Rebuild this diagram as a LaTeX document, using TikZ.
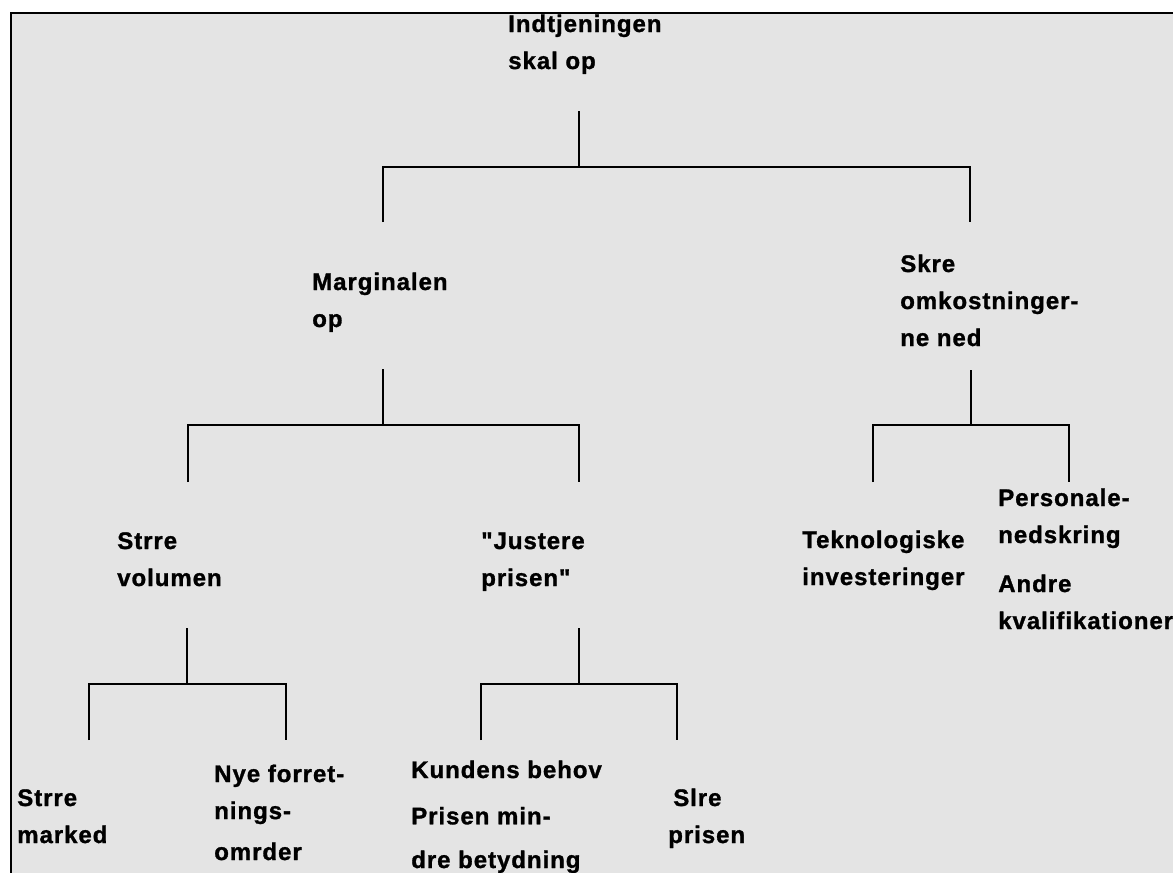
\documentclass[tikz,border=0pt]{standalone}
\usepackage{fontspec}
\setmainfont{Liberation Sans}[LetterSpace=4, Ligatures=TeXOff, BoldFeatures={FakeBold=1.2}]
\usepackage{tikz}
\usetikzlibrary{positioning}
\definecolor{paper}{RGB}{228, 228, 228}
% anchored at the baseline of the last line
\tikzstyle{goal} = [anchor=base west, inner sep=0pt, align=left, text=black, font=\bfseries\fontsize{18}{27.75}\selectfont]
\tikzstyle{tline} = [draw, line width=1.5pt, line join=miter]

\begin{document}
\begin{tikzpicture}[x=0.75pt, y=-0.75pt]

\useasboundingbox (0,0) rectangle (1173,872);

% background =============================
\fill[paper] (11,13) rectangle (1180,880);
\draw[line width=1.6pt] (11,880) -- (11,13) -- (1180,13);

% goals ==================================

% level 0
\node[goal] (indt) at (508,69) {Indtjeningen\\skal op};

% level 1
\node[goal] (marg) at (312,327) {Marginalen\\op};
\node[goal] (skre) at (900,346) {Skre\\omkostninger-\\ne ned};

% level 2
\node[goal] (volu) at (117,586) {Strre\\volumen};
\node[goal] (just) at (481,586) {"Justere\\prisen"};
\node[goal] (tekn) at (802,585) {Teknologiske\\investeringer};
\node[goal] (pers) at (998,629) {Personale-\\nedskring\\[9pt]Andre\\kvalifikationer};

% level 3
\node[goal] (mark) at (17,843) {Strre\\marked};
\node[goal] (nye)  at (214,860) {Nye forret-\\nings-\\[3pt]omrder};
\node[goal] (kund) at (411,868) {Kundens behov\\[7pt]Prisen min-\\[5pt]dre betydning};
\node[goal] (slre) at (673,843) {Slre\\\hspace*{-3.75pt}prisen};

% stub ends ==============================
\coordinate (indt-s) at (579,111);
\coordinate (marg-n) at (383,222);
\coordinate (skre-n) at (970,222);

\coordinate (marg-s) at (383,369);
\coordinate (volu-n) at (188,482);
\coordinate (just-n) at (579,482);

\coordinate (skre-s) at (971,370);
\coordinate (tekn-n) at (873,482);
\coordinate (pers-n) at (1069,482);

\coordinate (volu-s) at (187,628);
\coordinate (mark-n) at (89,740);
\coordinate (nye-n)  at (286,740);

\coordinate (just-s) at (579,628);
\coordinate (kund-n) at (481,740);
\coordinate (slre-n) at (677,740);

% edges ==================================
\path[tline] (indt-s) -- ++(0,56);
\path[tline] (marg-n) -- ++(0,-55) -| (skre-n);

\path[tline] (marg-s) -- ++(0,56);
\path[tline] (volu-n) -- ++(0,-57) -| (just-n);

\path[tline] (skre-s) -- ++(0,55);
\path[tline] (tekn-n) -- ++(0,-57) -| (pers-n);

\path[tline] (volu-s) -- ++(0,56);
\path[tline] (mark-n) -- ++(0,-56) -| (nye-n);

\path[tline] (just-s) -- ++(0,56);
\path[tline] (kund-n) -- ++(0,-56) -| (slre-n);

\end{tikzpicture}
\end{document}
